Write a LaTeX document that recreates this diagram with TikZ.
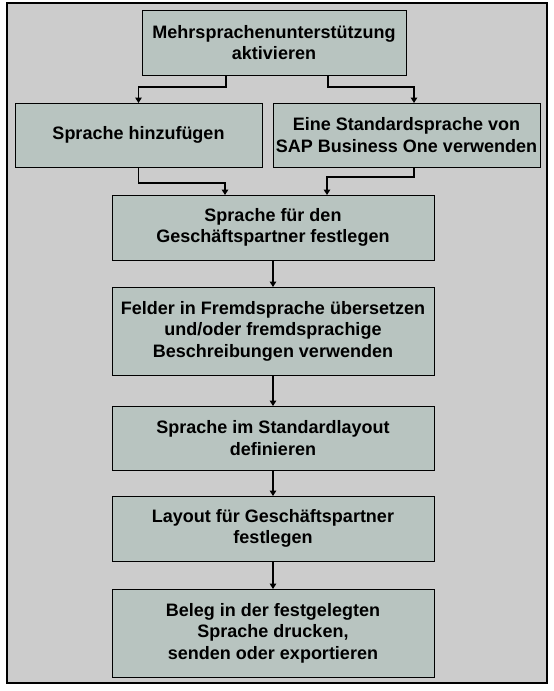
\documentclass[tikz,border=0pt]{standalone}
\usepackage{fontspec}
\setmainfont{Liberation Sans}
\usetikzlibrary{arrows.meta, positioning}

\definecolor{panelgray}{RGB}{204,204,204}
\definecolor{boxgray}{RGB}{184,196,192}

\tikzset{
    stage/.style={draw,
        fill=boxgray,
        line width=0.8pt,
        align=center,
        inner sep=0,
        outer sep=0,
        font=\fontsize{18}{21.5}\selectfont\bfseries},
    link/.style={line width=1.6pt,
        -{Triangle[width=6.5pt,length=5.5pt]}}
}

\begin{document}
\begin{tikzpicture}

\useasboundingbox (0,0) rectangle (554pt,-691pt);

\draw[fill=panelgray, line width=2pt] (7pt,-3pt) rectangle (547pt,-683pt);

\node[stage,
    minimum width=264pt,
    minimum height=65pt] (activate) at (274pt,-42.5pt)
    {Mehrsprachenunterstützung \\ aktivieren};

\node[stage,
    below=28pt of activate,
    xshift=-135.5pt,
    minimum width=247pt,
    minimum height=64pt] (addlang) {Sprache hinzufügen};

\node[stage,
    below=28pt of activate,
    xshift=132.5pt,
    minimum width=267pt,
    minimum height=64pt] (stdlang) {Eine Standardsprache von \\
                                    SAP Business One verwenden};

\node[stage,
    below=120pt of activate,
    xshift=-1pt,
    minimum width=322pt,
    minimum height=65pt] (bplang) {Sprache für den \\
                                   Geschäftspartner festlegen};

\node[stage,
    below=27pt of bplang,
    minimum width=322pt,
    minimum height=88pt] (fields) {Felder in Fremdsprache übersetzen \\
                                   und/oder fremdsprachige \\
                                   Beschreibungen verwenden};

\node[stage,
    below=31pt of fields,
    minimum width=322pt,
    minimum height=64pt] (stdlayout) {Sprache im Standardlayout \\
                                      definieren};

\node[stage,
    below=26pt of stdlayout,
    minimum width=322pt,
    minimum height=65pt] (bplayout) {Layout für Geschäftspartner \\
                                     festlegen};

\node[stage,
    below=28pt of bplayout,
    minimum width=322pt,
    minimum height=88pt] (output) {Beleg in der festgelegten \\
                                   Sprache drucken, \\
                                   senden oder exportieren};

\draw[link] ([xshift=-48pt]activate.south) -- ++(0,-12pt) -| (addlang.north);
\draw[link] ([xshift=54pt]activate.south) -- ++(0,-12pt) -| ([xshift=7.5pt]stdlang.north);
\draw[link] (addlang.south) -- ++(0,-16pt) -| ([xshift=-48pt]bplang.north);
\draw[link] ([xshift=7.5pt]stdlang.south) -- ++(0,-10pt) -| ([xshift=54pt]bplang.north);
\draw[link] (bplang) -- (fields);
\draw[link] (fields) -- (stdlayout);
\draw[link] (stdlayout) -- (bplayout);
\draw[link] (bplayout) -- (output);

\end{tikzpicture}
\end{document}
